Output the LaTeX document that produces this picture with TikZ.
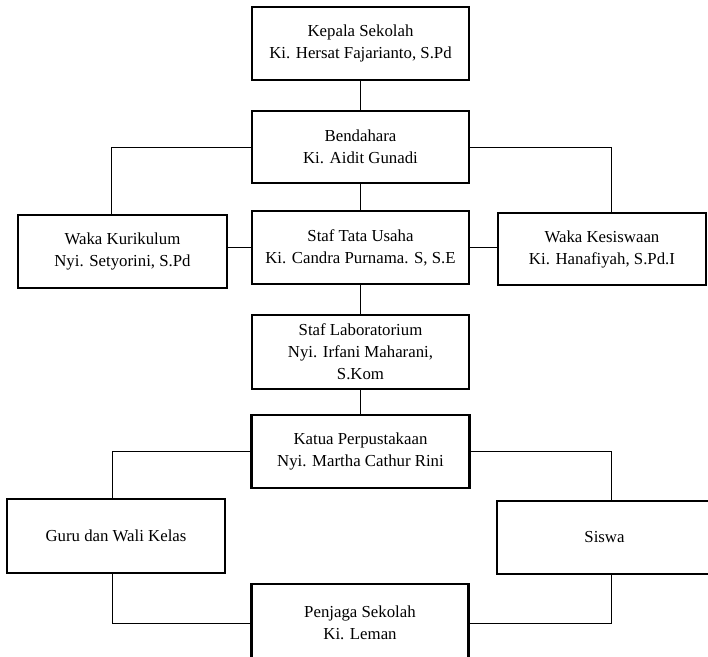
\documentclass[tikz,border=0pt]{standalone}
\usepackage{fontspec}
\setmainfont{Liberation Serif}
\usepackage{tikz}

\begin{document}
\begin{tikzpicture}[
    x=0.75pt, y=-0.75pt,
    box/.style={rectangle, draw, line width=1.6pt, align=center,
        font=\fontsize{12.6}{16.5}\selectfont, inner sep=0pt},
    link/.style={draw, line width=0.75pt}
]
\useasboundingbox (0,0) rectangle (708,657);

\node[box, minimum width=162.75pt, minimum height=54.75pt] (kepala) at (360.5,43.5)
    {Kepala Sekolah\\Ki. Hersat Fajarianto, S.Pd};
\node[box, minimum width=162.75pt, minimum height=54pt] (bendahara) at (360.5,147)
    {Bendahara\\Ki. Aidit Gunadi};
\node[box, minimum width=156.75pt, minimum height=54.75pt] (wakakur) at (122.5,251.5)
    {Waka Kurikulum\\Nyi. Setyorini, S.Pd};
\node[box, minimum width=162.75pt, minimum height=54.75pt] (staftu) at (360.5,247.5)
    {Staf Tata Usaha\\Ki. Candra Purnama. S, S.E};
\node[box, minimum width=156pt, minimum height=54pt] (wakakes) at (602,249)
    {Waka Kesiswaan\\Ki. Hanafiyah, S.Pd.I};
\node[box, minimum width=162.75pt, minimum height=55.5pt] (staflab) at (360.5,352)
    {Staf Laboratorium\\Nyi. Irfani Maharani,\\S.Kom};
\node[box, minimum width=163.5pt, minimum height=54.75pt] (katua) at (360.5,451.5)
    {Katua Perpustakaan\\Nyi. Martha Cathur Rini};
\node[box, minimum width=163.5pt, minimum height=55.5pt] (guru) at (116,536)
    {Guru dan Wali Kelas};
\node[box, minimum width=161.25pt, minimum height=54.75pt] (siswa) at (604.5,537.5)
    {Siswa};
\node[box, minimum width=162.75pt, minimum height=58.5pt] (penjaga) at (360,623)
    {Penjaga Sekolah\\Ki. Leman};

% garis penghubung
\draw[link] (kepala) -- (bendahara);
\draw[link] (bendahara.west) -| ([xshift=-7.9pt]wakakur.north);
\draw[link] (bendahara.east) -| ([xshift=6.75pt]wakakes.north);
\draw[link] (bendahara) -- (staftu);
\draw[link] (staftu.west) -- (staftu.west -| wakakur.east);
\draw[link] (staftu.east) -- (staftu.east -| wakakes.west);
\draw[link] (staftu) -- (staflab);
\draw[link] (staflab) -- (katua);
\draw[link] (katua.west) -| ([xshift=-3pt]guru.north);
\draw[link] (katua.east) -| ([xshift=5.25pt]siswa.north);
\draw[link] ([xshift=-3pt]guru.south) |- (penjaga.west);
\draw[link] ([xshift=5.25pt]siswa.south) |- (penjaga.east);
\end{tikzpicture}
\end{document}
